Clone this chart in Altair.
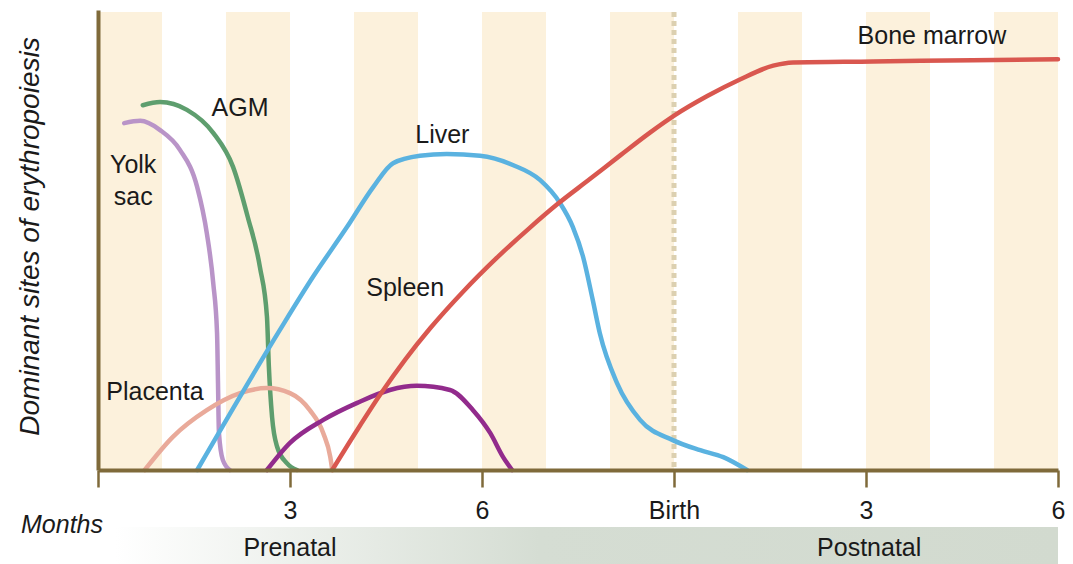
import altair as alt
import pandas as pd

# ---------------- data (months from conception, relative activity 0-100) -------------
yolk_m = [0.41, 0.66, 0.97, 1.28, 1.55, 1.70, 1.80, 1.86, 1.875, 1.89, 1.95, 2.06]
yolk_v = [75.4, 75.9, 73.9, 69.6, 61.5, 51.5, 40.7, 29.8, 18.9, 8.0, 2.2, 0.0]

agm_m = [0.70, 0.97, 1.39, 1.80, 2.11, 2.34, 2.53, 2.64, 2.67, 2.72, 2.80, 2.95, 3.11]
agm_v = [79.3, 80.0, 78.3, 73.3, 65.9, 55.0, 44.1, 33.3, 22.4, 11.5, 5.0, 1.5, 0.0]

placenta_m = [0.73, 1.17, 1.70, 2.22, 2.64, 3.00, 3.31, 3.52, 3.63, 3.66]
placenta_v = [0.0, 7.2, 13.0, 16.7, 17.8, 16.7, 13.0, 8.0, 2.8, 0.0]

liver_m = [1.55, 2.84, 3.36, 3.89, 4.30, 4.61, 5.03, 5.45, 5.97, 6.48, 6.91, 7.22,
           7.42, 7.58, 7.73, 7.84, 8.11, 8.47, 8.98, 9.41, 9.77, 10.14]
liver_v = [0.0, 30.4, 42.0, 52.8, 61.5, 66.7, 68.3, 68.7, 68.3, 66.3, 63.0, 58.0,
           52.8, 46.3, 37.0, 29.8, 18.9, 10.9, 6.5, 4.3, 2.8, 0.0]

spleen_m = [2.64, 3.00, 3.52, 4.05, 4.56, 4.98, 5.50, 5.86, 6.13, 6.33, 6.47]
spleen_v = [0.0, 5.9, 10.9, 14.6, 17.4, 18.3, 17.4, 13.0, 8.0, 2.8, 0.0]

marrow_m = [3.66, 4.05, 4.41, 4.80, 5.19, 5.70, 6.23, 6.75, 7.17, 7.69, 8.16, 8.63,
            9.02, 9.52, 10.03, 10.55, 10.86, 12.11, 13.67, 15.0]
marrow_v = [0.0, 8.7, 16.4, 24.0, 30.8, 38.7, 46.1, 52.7, 57.7, 63.3, 68.4, 73.4,
            77.2, 81.3, 84.9, 87.9, 88.6, 88.8, 89.1, 89.3]

series_names = ["Yolk sac", "AGM", "Placenta", "Liver", "Spleen", "Bone marrow"]
series_colors = ["#b994c8", "#5e9e6e", "#e9aa9a", "#5ab2e0", "#922b8c", "#d9574f"]

# curve labels
label_text = ["Yolk", "sac", "AGM", "Placenta", "Liver", "Spleen", "Bone marrow"]
label_m = [0.55, 0.55, 2.22, 0.89, 5.38, 4.80, 13.03]
label_v = [66.3, 59.3, 78.7, 17.0, 72.8, 39.6, 94.3]

# background month stripes
stripe_start = [0, 2, 4, 6, 8, 10, 12, 14]
stripe_end = [1, 3, 5, 7, 9, 11, 13, 15]

# x-axis ticks
tick_values = [0, 3, 6, 9, 12, 15]
tick_labels = ["", "3", "6", "Birth", "3", "6"]
birth_month = [9]

# period band
phase_text = ["Prenatal", "Postnatal"]
phase_m = [3.0, 12.05]
band_start = [0.27]
band_end = [15.0]

# ---------------- build tables ----------------
rows = []
for name, ms, vs in zip(series_names,
                        [yolk_m, agm_m, placenta_m, liver_m, spleen_m, marrow_m],
                        [yolk_v, agm_v, placenta_v, liver_v, spleen_v, marrow_v]):
    for i, (m, v) in enumerate(zip(ms, vs)):
        rows.append({"series": name, "month": m, "level": v, "idx": i})
curves = pd.DataFrame(rows)
labels = pd.DataFrame({"text": label_text, "month": label_m, "level": label_v})
stripes = pd.DataFrame({"start": stripe_start, "end": stripe_end})
birth = pd.DataFrame({"month": birth_month})
phases = pd.DataFrame({"text": phase_text, "month": phase_m})
band = pd.DataFrame({"start": band_start, "end": band_end})

AXIS = "#7f6a3a"
FONT = "Liberation Sans"

label_expr = "{" + ", ".join(f"'{v}': '{t}'" for v, t in zip(tick_values, tick_labels)) + "}[datum.value]"

xscale = alt.Scale(domain=[0, 15], nice=False, zero=False)
yscale = alt.Scale(domain=[0, 100], nice=False)
xaxis = alt.Axis(values=tick_values, labelExpr=label_expr, title=None, grid=False,
                 domainColor=AXIS, domainWidth=4, tickColor=AXIS, tickWidth=2.5,
                 tickSize=17, labelFontSize=25, labelFont=FONT, labelColor="#1a1a1a",
                 labelPadding=11, labelFlush=False, labelOverlap=False, zindex=1)
yaxis = alt.Axis(title="Dominant sites of erythropoiesis", grid=False, ticks=False,
                 labels=False, domainColor=AXIS, domainWidth=4,
                 titleFontStyle="italic", titleFontWeight="normal", titleFontSize=28,
                 titleFont=FONT, titleColor="#1a1a1a", titleAngle=270,
                 titleX=-68, titleY=226, titleAlign="center", titleBaseline="middle",
                 zindex=1)

stripe_layer = alt.Chart(stripes).mark_rect(color="#fcf1dc").encode(
    x=alt.X("start:Q", scale=xscale, axis=xaxis),
    x2="end:Q",
    y=alt.value(2),
    y2=alt.value(460),
)

birth_layer = alt.Chart(birth).mark_rule(color="#dcd0b0", strokeWidth=5,
                                         strokeDash=[5, 4]).encode(
    x=alt.X("month:Q", scale=xscale, axis=xaxis),
    y=alt.value(2),
    y2=alt.value(460),
)

band_layer = alt.Chart(band).mark_rect(
    color=alt.LinearGradient(
        gradient="linear",
        stops=[alt.GradientStop(color="#ffffff", offset=0),
               alt.GradientStop(color="#d5ddd3", offset=0.45),
               alt.GradientStop(color="#d2dacf", offset=1)],
        x1=0, x2=1, y1=0, y2=0)
).encode(
    x=alt.X("start:Q", scale=xscale, axis=xaxis),
    x2="end:Q",
    y=alt.value(517),
    y2=alt.value(560),
)

phase_layer = alt.Chart(phases).mark_text(fontSize=25, font=FONT, color="#1a1a1a",
                                          baseline="middle").encode(
    x=alt.X("month:Q", scale=xscale, axis=xaxis),
    y=alt.value(538),
    text="text:N",
)

months_layer = alt.Chart(band).mark_text(text="Months", fontSize=25, font=FONT,
                                         fontStyle="italic", color="#1a1a1a",
                                         baseline="middle").encode(
    x=alt.value(-36),
    y=alt.value(515),
)

curve_layer = alt.Chart(curves).mark_line(strokeWidth=4.5, interpolate="monotone",
                                          strokeCap="round").encode(
    x=alt.X("month:Q", scale=xscale, axis=xaxis),
    y=alt.Y("level:Q", scale=yscale, axis=yaxis),
    color=alt.Color("series:N", scale=alt.Scale(domain=series_names, range=series_colors),
                    legend=None),
    order="idx:Q",
)

label_layer = alt.Chart(labels).mark_text(fontSize=25, font=FONT, color="#1a1a1a",
                                          baseline="middle").encode(
    x=alt.X("month:Q", scale=xscale, axis=xaxis),
    y=alt.Y("level:Q", scale=yscale, axis=yaxis),
    text="text:N",
)

chart = alt.layer(
    stripe_layer, birth_layer, band_layer, curve_layer, label_layer,
    phase_layer, months_layer
).properties(
    width=960, height=460,
    autosize=alt.AutoSizeParams(type="none"),
    padding={"left": 90, "top": 2, "right": 7, "bottom": 96},
).configure_view(stroke=None)

chart.save("out.html", embed_options={"renderer": "svg", "actions": False})
